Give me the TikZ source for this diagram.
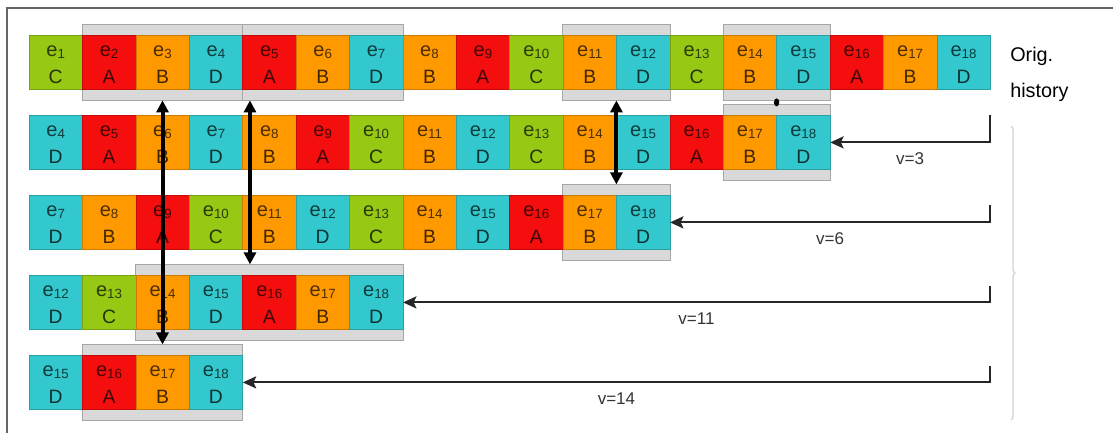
\documentclass[tikz,border=0pt]{standalone}
\usepackage{fontspec}
\setmainfont{Liberation Sans}
\usetikzlibrary{arrows.meta,fit,backgrounds,decorations.pathreplacing,calc}

\definecolor{kindA}{RGB}{245,14,14}
\definecolor{kindB}{RGB}{255,153,0}
\definecolor{kindC}{RGB}{150,200,20}
\definecolor{kindD}{RGB}{50,200,205}

% event name e_n with a small index
\newcommand\eid[1]{e\raisebox{-1.2pt}{\fontsize{10}{12}\selectfont #1}}

\begin{document}
\begin{tikzpicture}[x=0.75pt, y=-0.75pt,
    cell/.style={rectangle, fill=kind#1, draw=kind#1!80!black, line width=0.4pt,
                 minimum width=40pt, minimum height=40pt, inner sep=0pt,
                 text height=31pt, text depth=0pt, text=kind#1!25!black,
                 font=\fontsize{14.5}{16}\selectfont},
    idx/.style={anchor=base, inner sep=0pt, text=kind#1!30!black,
                font=\fontsize{15}{18}\selectfont},
    hibox/.style={rectangle, draw=gray!70, fill=gray!30, line width=0.6pt,
                  inner xsep=0pt, inner ysep=8pt},
    link/.style={line width=3pt, <->, >={Triangle[length=9pt,width=9pt]}},
    back/.style={line width=1.6pt, draw=black!85, -{Stealth[length=10pt,width=9pt,inset=2pt]}},
    vlabel/.style={below=7pt, inner sep=0pt, text=black!80, font=\fontsize{12.75}{15}\selectfont}]

\useasboundingbox (0,0) rectangle (1113,432);
\draw[line width=1pt, black!60] (7,440) |- (1120,8);

% the events, one row per version; row \row starts at e_\f
\foreach \n/\k in {1/C,2/A,3/B,4/D,5/A,6/B,7/D,8/B,9/A,10/C,11/B,12/D,13/C,14/B,15/D,16/A,17/B,18/D}
  \foreach \row/\f in {1/1,2/4,3/7,4/12,5/15} {
    \ifnum\n<\f\relax\else
      \node[cell=\k] (r\row-\n) at ({55.7+(\n-\f)*53.4}, {62.4+(\row-1)*80}) {\k};
      \node[idx=\k] (i\row-\n) at ([yshift=4.5pt]r\row-\n.center) {\eid{\n}};
    \fi
  }

% matched windows
\begin{scope}[on background layer]
  \node[hibox, fit=(r1-2)(r1-4)] (h1a) {};
  \node[hibox, fit=(r1-5)(r1-7)] (h1b) {};
  \node[hibox, fit=(r1-11)(r1-12)] (h1c) {};
  \node[hibox, fit=(r1-14)(r1-15)] (h1d) {};
  \node[hibox, fit=(r2-17)(r2-18)] (h2) {};
  \node[hibox, fit=(r3-17)(r3-18)] (h3) {};
  \node[hibox, fit=(r4-14)(r4-18)] (h4) {};
  \node[hibox, fit=(r5-16)(r5-18)] (h5) {};
\end{scope}

\node[anchor=base west, inner sep=0pt, font=\fontsize{14.85}{18}\selectfont] (orig) at (1010,61.7) {Orig.};
\node[anchor=base west, inner sep=0pt, font=\fontsize{14.85}{18}\selectfont] (hist) at (1010,97.5) {history};

\draw[link] (h1a.south -| r1-3) -- (h5.north -| r1-3);
\coordinate (a2) at ([xshift=6pt]h1b.south west);
\draw[link] (a2) -- (a2 |- h4.north);
\draw[link] (h1c.south) -- (h3.north);
\fill ($(h1d.south)!.5!(h2.north)$) ellipse [x radius=2pt, y radius=3pt];

% versions
\coordinate (v3) at (990,115);
\coordinate (v6) at (990,205);
\coordinate (v11) at (990,286);
\coordinate (v14) at (990,366);
\draw[back] (v3) |- (r2-18.east) node[vlabel, pos=.75] (l3) {v=3};
\draw[back] (v6) |- (r3-18.east) node[vlabel, pos=.75] (l6) {v=6};
\draw[back] (v11) |- (r4-18.east) node[vlabel, pos=.75] (l11) {v=11};
\draw[back] (v14) |- (r5-18.east) node[vlabel, pos=.75] (l14) {v=14};

\draw[gray!35, line width=1pt, decorate, decoration={brace, amplitude=3pt}] (1011,126) -- (1011,420);

\end{tikzpicture}
\end{document}
